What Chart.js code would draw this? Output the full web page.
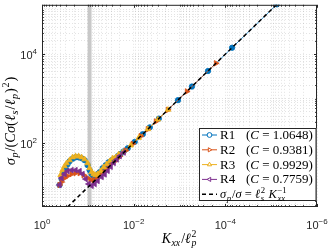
<!DOCTYPE html>
<html>
<head>
<meta charset="utf-8">
<script src="https://cdn.jsdelivr.net/npm/chart.js@4.4.0/dist/chart.umd.min.js"></script>
<style>
  html, body { margin: 0; padding: 0; background: #fff; }
</style>
</head>
<body>
<canvas id="chart" width="329" height="249"></canvas>
<script>
// K_xx / l_p^2 values and normalised sigma_p for each run
const r1K = [0.414, 0.374, 0.339, 0.306, 0.277, 0.250, 0.215, 0.185, 0.159, 0.137, 0.1175, 0.101, 0.0914, 0.0826, 0.0747, 0.0675, 0.0611, 0.0552, 0.0474, 0.0408, 0.0351, 0.0301, 0.0259, 0.0223, 0.0192, 0.01648, 0.01346, 0.00946, 0.00632, 0.00444, 0.00282, 0.00108, 0.000536, 0.000239, 0.0000713, 0.0000075];
const r1Y = [11.3, 15.4, 20.9, 27.1, 33.2, 38.7, 44.0, 47.5, 47.5, 45.2, 40.8, 31.6, 24.4, 19.9, 18.0, 18.0, 19.9, 22.0, 27.1, 31.6, 36.8, 40.8, 44.0, 50.6, 56.9, 64.7, 76, 106, 158, 225, 354, 923, 1866, 4180, 14000, 133000];

const r2K = [0.414, 0.374, 0.322, 0.277, 0.226, 0.185, 0.151, 0.124, 0.101, 0.0869, 0.0747, 0.0642, 0.0552, 0.0474, 0.0408, 0.0351, 0.0301, 0.0259, 0.0223, 0.0201, 0.0149, 0.01047, 0.0070, 0.00491, 0.00328, 0.00179, 0.000689, 0.000160];
const r2Y = [11.3, 13.2, 16.2, 18.0, 19.9, 20.9, 20.9, 18.9, 16.2, 14.6, 14.6, 16.2, 18.9, 22.0, 25.7, 30.0, 35.0, 38.7, 45.2, 50, 67.5, 95.5, 143, 204, 305, 557, 1452, 6250];

const r3K = [0.394, 0.356, 0.322, 0.291, 0.250, 0.215, 0.185, 0.159, 0.137, 0.1175, 0.101, 0.0914, 0.0826, 0.0747, 0.0675, 0.0611, 0.0525, 0.0451, 0.0388, 0.0334, 0.0287, 0.0246, 0.0212, 0.01733, 0.01157, 0.00773, 0.00491, 0.00297, 0.00179];
const r3Y = [18.9, 24.4, 30.0, 35.0, 40.8, 47.5, 50.1, 50.1, 47.5, 42.9, 35.0, 27.1, 22.0, 19.9, 18.9, 19.9, 23.2, 28.5, 33.2, 38.7, 45.2, 47.5, 55.5, 61.5, 88, 131, 205, 338, 560];

const r4K = [0.414, 0.374, 0.322, 0.277, 0.226, 0.185, 0.151, 0.130, 0.112, 0.0960, 0.0826, 0.0710, 0.0611, 0.0499, 0.0429, 0.0369, 0.0317, 0.0272, 0.0234, 0.0201, 0.01648];
const r4Y = [11.3, 16.2, 19.9, 23.2, 24.4, 24.4, 23.2, 19.9, 15.4, 11.9, 10.8, 11.9, 13.9, 17.1, 19.5, 23.5, 29.0, 35.5, 42.5, 50.6, 60.7];

// sigma_p/sigma = l_s^2 / K_xx reference line
const refK = [0.2778, 0.0000077];
const refY = [3.6, 130000];

// shaded band
const bandK = [0.101, 0.083];

const runNames = ['R1', 'R2', 'R3', 'R4'];
const runC = ['1.0648', '0.9381', '0.9929', '0.7759'];
const runColors = ['#0072BD', '#D95319', '#EDB120', '#7E2F8E'];
const runMarkers = [['circle', 0], ['triangle', 90], ['triangle', 0], ['triangle', -90]];

const xTicks = [1, 1e-2, 1e-4, 1e-6];
const xTickExp = ['0', '-2', '-4', '-6'];
const yTicks = [1e2, 1e4];
const yTickExp = ['2', '4'];

const SERIF = '"Liberation Serif", "Times New Roman", serif';
const SANS = '"Liberation Sans", Arial, sans-serif';
const AXIS = '#262626';

const toPts = (ks, ys) => ks.map((k, i) => ({ x: k, y: ys[i] }));

function decadeTicks(lo, hi) {
  const out = [];
  for (let e = Math.floor(Math.log10(lo)); e <= Math.ceil(Math.log10(hi)); e++) {
    for (let m = 1; m <= 9; m++) {
      const v = m * Math.pow(10, e);
      if (v >= lo * 0.999 && v <= hi * 1.001) out.push({ value: v });
    }
  }
  return out;
}
const isMajor = (v, list) => list.some(t => Math.abs(Math.log10(v) - Math.log10(t)) < 1e-6);

function fnt(size, it) { return (it ? 'italic ' : '') + size + 'px ' + SERIF; }

function segWidth(ctx, s, size) {
  ctx.font = fnt(size, s.it);
  const w = ctx.measureText(s.t).width;
  let ext = 0;
  if (s.sub) { ctx.font = fnt(size * 0.7, true); ext = Math.max(ext, ctx.measureText(s.sub).width); }
  if (s.sup) { ctx.font = fnt(size * 0.7, false); ext = Math.max(ext, ctx.measureText(s.sup).width); }
  return w + ext + (ext ? 1.5 : 0);
}

function drawRich(ctx, segs, x, y, size, align) {
  const total = segs.reduce((a, s) => a + segWidth(ctx, s, size), 0);
  let cx = align === 'center' ? x - total / 2 : x;
  ctx.textAlign = 'left';
  ctx.textBaseline = 'alphabetic';
  segs.forEach(s => {
    ctx.font = fnt(size, s.it);
    ctx.fillText(s.t, cx, y);
    const w = ctx.measureText(s.t).width;
    let ext = 0;
    if (s.sub) {
      ctx.font = fnt(size * 0.7, true);
      ctx.fillText(s.sub, cx + w + 0.5, y + size * 0.22);
      ext = Math.max(ext, ctx.measureText(s.sub).width);
    }
    if (s.sup) {
      ctx.font = fnt(size * 0.7, false);
      ctx.fillText(s.sup, cx + w + 0.5, y - size * 0.42);
      ext = Math.max(ext, ctx.measureText(s.sup).width);
    }
    cx += w + ext + (ext ? 1.5 : 0);
  });
}

function powLabel(ctx, exp, x, y, align) {
  const e = exp.replace('-', '\u2212');
  ctx.font = '11px ' + SANS;
  const wb = ctx.measureText('10').width;
  ctx.font = '8px ' + SANS;
  const we = ctx.measureText(e).width;
  const left = align === 'right' ? x - wb - we : x - (wb + we) / 2;
  ctx.textAlign = 'left';
  ctx.textBaseline = 'alphabetic';
  ctx.font = '11px ' + SANS;
  ctx.fillText('10', left, y);
  ctx.font = '8px ' + SANS;
  ctx.fillText(e, left + wb, y - 5);
}

const decor = {
  id: 'decor',
  beforeDatasetsDraw(chart) {
    const { ctx, chartArea: a, scales: { x } } = chart;
    const x0 = x.getPixelForValue(bandK[0]);
    const x1 = x.getPixelForValue(bandK[1]);
    ctx.save();
    ctx.fillStyle = 'rgb(200,200,200)';
    ctx.fillRect(Math.min(x0, x1), a.top, Math.abs(x1 - x0), a.bottom - a.top);
    ctx.restore();
  },
  afterDraw(chart) {
    const { ctx, chartArea: a, scales: { x, y } } = chart;
    ctx.save();
    // tick marks, inward, on all four sides
    ctx.strokeStyle = AXIS;
    ctx.lineWidth = 1;
    ctx.beginPath();
    x.ticks.forEach(t => {
      const px = Math.round(x.getPixelForValue(t.value)) + 0.5;
      const len = isMajor(t.value, xTicks) ? 3 : 1.8;
      ctx.moveTo(px, a.bottom); ctx.lineTo(px, a.bottom - len);
      ctx.moveTo(px, a.top); ctx.lineTo(px, a.top + len);
    });
    y.ticks.forEach(t => {
      const py = Math.round(y.getPixelForValue(t.value)) + 0.5;
      const len = isMajor(t.value, yTicks) ? 3 : 1.8;
      ctx.moveTo(a.left, py); ctx.lineTo(a.left + len, py);
      ctx.moveTo(a.right, py); ctx.lineTo(a.right - len, py);
    });
    ctx.stroke();
    ctx.strokeRect(a.left + 0.5, a.top + 0.5, a.right - a.left - 1, a.bottom - a.top - 1);

    // tick labels
    ctx.fillStyle = AXIS;
    xTicks.forEach((v, i) => powLabel(ctx, xTickExp[i], x.getPixelForValue(v), 228.5, 'center'));
    yTicks.forEach((v, i) => powLabel(ctx, yTickExp[i], a.left - 5, y.getPixelForValue(v) + 5, 'right'));

    // axis titles
    ctx.fillStyle = '#000';
    drawRich(ctx, [
      { t: 'K', it: true, sub: 'xx' }, { t: '/', it: false }, { t: '\u2113', it: true, sub: 'p', sup: '2' }
    ], (a.left + a.right) / 2, 243, 14, 'center');
    ctx.save();
    ctx.translate(15, 121);
    ctx.rotate(-Math.PI / 2);
    drawRich(ctx, [
      { t: '\u03c3', it: true, sub: 'p' }, { t: '/(', it: false }, { t: 'C\u03c3', it: true },
      { t: '(', it: false }, { t: '\u2113', it: true, sub: 's' }, { t: '/', it: false },
      { t: '\u2113', it: true, sub: 'p' }, { t: ')', it: false, sup: '2' }, { t: ')', it: false }
    ], 0, 0, 14.5, 'center');
    ctx.restore();

    // legend
    const lx = 199, ly = 128, lw = 117.5, lh = 73;
    ctx.fillStyle = '#fff';
    ctx.fillRect(lx, ly, lw, lh);
    ctx.strokeStyle = AXIS;
    ctx.lineWidth = 1;
    ctx.strokeRect(lx + 0.5, ly + 0.5, lw - 1, lh - 1);
    const rowY = i => 135 + i * 14.8;
    runNames.forEach((name, i) => {
      const cy = rowY(i);
      ctx.strokeStyle = runColors[i];
      ctx.lineWidth = 1;
      ctx.beginPath(); ctx.moveTo(202, cy); ctx.lineTo(217, cy); ctx.stroke();
      ctx.fillStyle = '#fff';
      Chart.helpers.drawPoint(ctx, {
        pointStyle: runMarkers[i][0], rotation: runMarkers[i][1],
        radius: 2.4, borderWidth: 1
      }, 209.5, cy);
      ctx.fillStyle = '#000';
      drawRich(ctx, [{ t: name, it: false }], 220, cy + 4, 13, 'left');
      drawRich(ctx, [{ t: '(', it: false }, { t: 'C', it: true }, { t: ' = ' + runC[i] + ')', it: false }],
        246, cy + 4, 13, 'left');
    });
    const cy = rowY(4);
    ctx.strokeStyle = '#000';
    ctx.lineWidth = 1.5;
    ctx.setLineDash([4, 3]);
    ctx.beginPath(); ctx.moveTo(202, cy); ctx.lineTo(217, cy); ctx.stroke();
    ctx.setLineDash([]);
    ctx.fillStyle = '#000';
    drawRich(ctx, [
      { t: '\u03c3', it: true, sub: 'p' }, { t: '/', it: false }, { t: '\u03c3', it: true },
      { t: ' = ', it: false }, { t: '\u2113', it: true, sub: 's', sup: '2' },
      { t: '\u2009K', it: true, sub: 'xx', sup: '\u22121' }
    ], 220, cy + 4, 12.5, 'left');
    ctx.restore();
  }
};

const runSets = [toPts(r1K, r1Y), toPts(r2K, r2Y), toPts(r3K, r3Y), toPts(r4K, r4Y)].map((pts, i) => ({
  label: runNames[i],
  data: pts,
  showLine: true,
  borderColor: runColors[i],
  backgroundColor: runColors[i],
  borderWidth: 0.8,
  pointStyle: runMarkers[i][0],
  rotation: runMarkers[i][1],
  pointRadius: runMarkers[i][0] === 'circle' ? 2.7 : 3.2,
  pointBorderWidth: 0.8,
  order: 4 - i
}));

function gridFor(majors) {
  return {
    drawTicks: false,
    lineWidth: 1,
    color: c => (c.tick && isMajor(c.tick.value, majors)) ? 'rgba(38,38,38,0.12)' : 'rgba(38,38,38,0.13)'
  };
}

new Chart(document.getElementById('chart'), {
  type: 'scatter',
  data: {
    datasets: [{
      label: 'ref',
      data: toPts(refK, refY),
      showLine: true,
      borderColor: '#000',
      borderWidth: 1.5,
      borderDash: [4, 3],
      pointRadius: 0,
      order: 0
    }].concat(runSets)
  },
  options: {
    responsive: false,
    animation: false,
    layout: { padding: { left: 42, top: 3, right: 12, bottom: 42 } },
    plugins: { legend: { display: false }, tooltip: { enabled: false } },
    scales: {
      x: {
        type: 'logarithmic',
        reverse: true,
        min: 1e-6,
        max: 1,
        afterBuildTicks: s => { s.ticks = decadeTicks(1e-6, 1); },
        ticks: { display: false },
        grid: gridFor(xTicks),
        border: { display: false, dash: [1, 2] }
      },
      y: {
        type: 'logarithmic',
        min: 3.6,
        max: 130000,
        afterBuildTicks: s => { s.ticks = decadeTicks(3.6, 130000); },
        ticks: { display: false },
        grid: gridFor(yTicks),
        border: { display: false, dash: [1, 2] }
      }
    }
  },
  plugins: [decor]
});
</script>
</body>
</html>
